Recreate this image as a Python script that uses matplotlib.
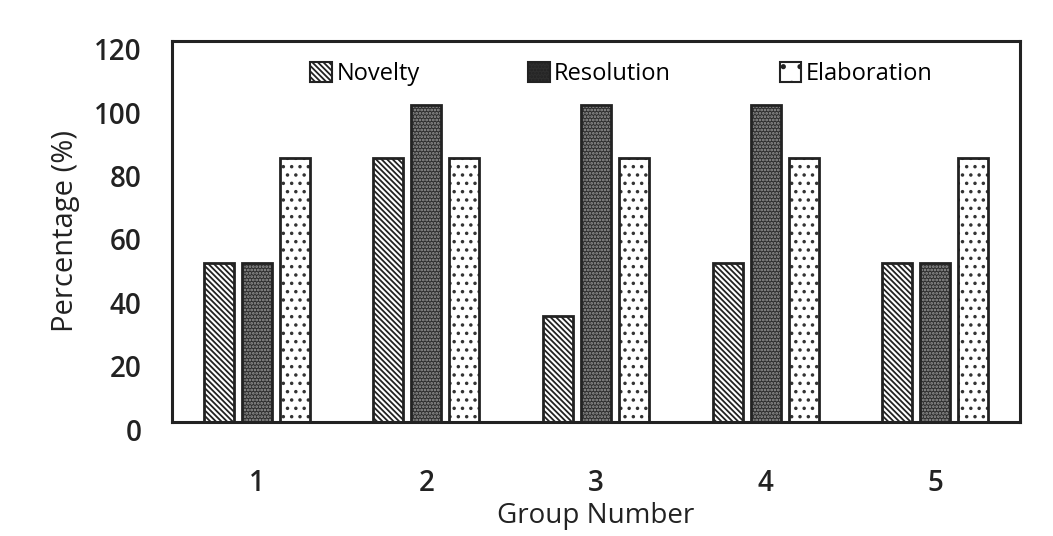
import matplotlib
matplotlib.use("Agg")
import matplotlib.pyplot as plt
from matplotlib.patches import Patch
from matplotlib.transforms import ScaledTranslation
import numpy as np

groups = ["1", "2", "3", "4", "5"]
novelty = [50, 83.3, 33.3, 50, 50]
resolution = [50, 100, 100, 100, 50]
elaboration = [83.3, 83.3, 83.3, 83.3, 83.3]

plt.rcParams['font.family'] = ['Open Sans', 'DejaVu Sans']
plt.rcParams['hatch.linewidth'] = 1.3

fig = plt.figure(figsize=(10.53, 5.36), dpi=100)
ax = fig.add_axes([0.1633, 0.2127, 0.8054, 0.7108])

x = np.arange(1, len(groups) + 1)
w = 0.176
step = 0.224
lw = 2.0
ink = '#222222'

nov_hatch = '\\\\\\\\\\\\'
res_hatch = '.....'
ela_hatch = '..'

# Novelty: diagonal lines
ax.bar(x - step, novelty, w, facecolor='white', edgecolor=ink,
       hatch=nov_hatch, linewidth=0)
ax.bar(x - step, novelty, w, fill=False, edgecolor=ink, linewidth=lw)
# Resolution: dark fill with fine light dots
ax.bar(x, resolution, w, facecolor='#2e2e2e', edgecolor='#999999',
       hatch=res_hatch, linewidth=0)
ax.bar(x, resolution, w, fill=False, edgecolor=ink, linewidth=lw)
# Elaboration: sparse dots
ax.bar(x + step, elaboration, w, facecolor='white', edgecolor='#333333',
       hatch=ela_hatch, linewidth=0)
ax.bar(x + step, elaboration, w, fill=False, edgecolor=ink, linewidth=lw)

ax.set_xlim(0.5, 5.5)
ax.set_ylim(0, 120)
ax.set_yticks(range(0, 121, 20))
ax.set_xticks(x)
ax.set_xticklabels(groups)
ax.tick_params(length=0, labelsize=20, colors=ink)
ax.tick_params(axis='x', pad=34)
ax.tick_params(axis='y', pad=22)
for lab in ax.get_xticklabels() + ax.get_yticklabels():
    lab.set_fontweight('semibold')
for lab in ax.get_yticklabels():
    lab.set_transform(lab.get_transform() + ScaledTranslation(0, -0.08, fig.dpi_scale_trans))

for s in ax.spines.values():
    s.set_linewidth(2.2)
    s.set_color(ink)

ax.set_xlabel("Group Number", fontsize=20, fontweight='medium', labelpad=3, color=ink)
ax.set_ylabel("Percentage (%)", fontsize=21, fontweight='medium', labelpad=10, color=ink)

handles = [
    Patch(facecolor='white', edgecolor=ink, hatch=nov_hatch, linewidth=1.5),
    Patch(facecolor='#2e2e2e', edgecolor=ink, hatch=res_hatch, linewidth=1.5),
    Patch(facecolor='white', edgecolor=ink, hatch='.', linewidth=1.5),
]
ax.legend(handles, ["Novelty", "Resolution", "Elaboration"], ncol=3,
          loc='upper center', bbox_to_anchor=(0.53, 1.0), frameon=False,
          fontsize=17, columnspacing=4.6, handlelength=0.9, handleheight=0.9,
          handletextpad=0.2)

fig.savefig("out.png", dpi=100, facecolor='white')
